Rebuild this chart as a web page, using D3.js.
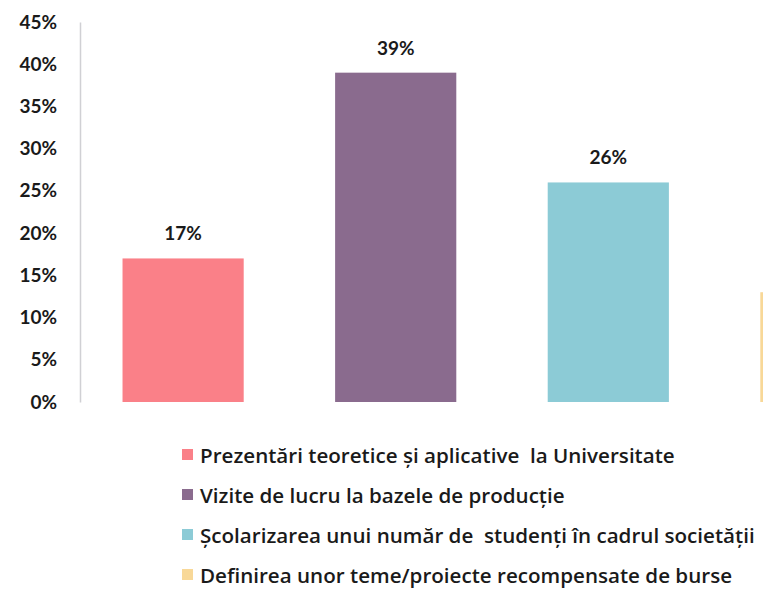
<!DOCTYPE html>
<html lang="en">
<head>
<meta charset="UTF-8">
<title>Chart</title>
<script src="https://cdn.jsdelivr.net/npm/d3@7"></script>
<style>
    body { margin: 0; background: #fff; }
    text { font-family: Lato, "Open Sans", sans-serif; fill: #1a1a1a; }
</style>
</head>
<body>
<script>
const categories = [
    "Prezentări teoretice și aplicative  la Universitate",
    "Vizite de lucru la bazele de producție",
    "Școlarizarea unui număr de  studenți în cadrul societății",
    "Definirea unor teme/proiecte recompensate de burse"
];
const values = [0.17, 0.39, 0.26, 0.13];
const colors = ["#fa8088", "#8a6b8e", "#8ccbd6", "#f8d898"];
const yTicks = [0, 0.05, 0.10, 0.15, 0.20, 0.25, 0.30, 0.35, 0.40, 0.45];

const w = 763, h = 604;
const svg = d3.select("body").append("svg")
    .attr("width", w)
    .attr("height", h);

// plot area runs past the right edge, the last bar is cut off like in the scan
let xScale = d3.scaleBand()
    .domain(categories)
    .range([80, 924])
    .paddingInner(0.43)
    .paddingOuter(0.2);

let yScale = d3.scaleLinear()
    .domain([0, 0.45])
    .range([402, 22]);

let yAxis = d3.axisLeft(yScale)
    .tickValues(yTicks)
    .tickFormat(d3.format(".0%"))
    .tickSize(0)
    .tickPadding(23);

let gy = svg.append("g")
    .attr("transform", "translate(80,0)")
    .call(yAxis);
gy.select(".domain").attr("stroke", "#d0d0d4").attr("stroke-width", 1.5);
gy.selectAll("text")
    .style("font-family", "Lato, sans-serif")
    .style("font-size", "19px")
    .style("font-weight", "bold")
    .attr("fill", "#1a1a1a");

svg.selectAll("rect.bar")
    .data(values)
    .enter()
    .append("rect")
    .attr("class", "bar")
    .attr("x", (d, i) => xScale(categories[i]))
    .attr("y", d => yScale(d))
    .attr("width", xScale.bandwidth())
    .attr("height", d => yScale(0) - yScale(d))
    .attr("fill", (d, i) => colors[i]);

// value labels - only the ones that fall inside the picture
let shown = values.map((d, i) => ({v: d, c: categories[i]}))
    .filter(d => xScale(d.c) + xScale.bandwidth() / 2 < w - 30);

svg.selectAll("text.lbl")
    .data(shown)
    .enter()
    .append("text")
    .attr("class", "lbl")
    .attr("x", d => xScale(d.c) + xScale.bandwidth() / 2)
    .attr("y", d => yScale(d.v) - 18)
    .attr("text-anchor", "middle")
    .style("font-size", "19px")
    .style("font-weight", "bold")
    .text(d => d3.format(".0%")(d.v));

// legend
let legend = svg.selectAll("g.leg")
    .data(categories)
    .enter()
    .append("g")
    .attr("class", "leg")
    .attr("transform", (d, i) => "translate(182," + (455 + i * 40) + ")");

legend.append("rect")
    .attr("x", 0)
    .attr("y", -6)
    .attr("width", 11)
    .attr("height", 11)
    .attr("fill", (d, i) => colors[i]);

legend.append("text")
    .attr("x", 18)
    .attr("y", 8)
    .style("font-family", "'Open Sans', sans-serif")
    .style("font-size", "20.6px")
    .style("font-weight", "600")
    .style("white-space", "pre")
    .text(d => d);
</script>
</body>
</html>
